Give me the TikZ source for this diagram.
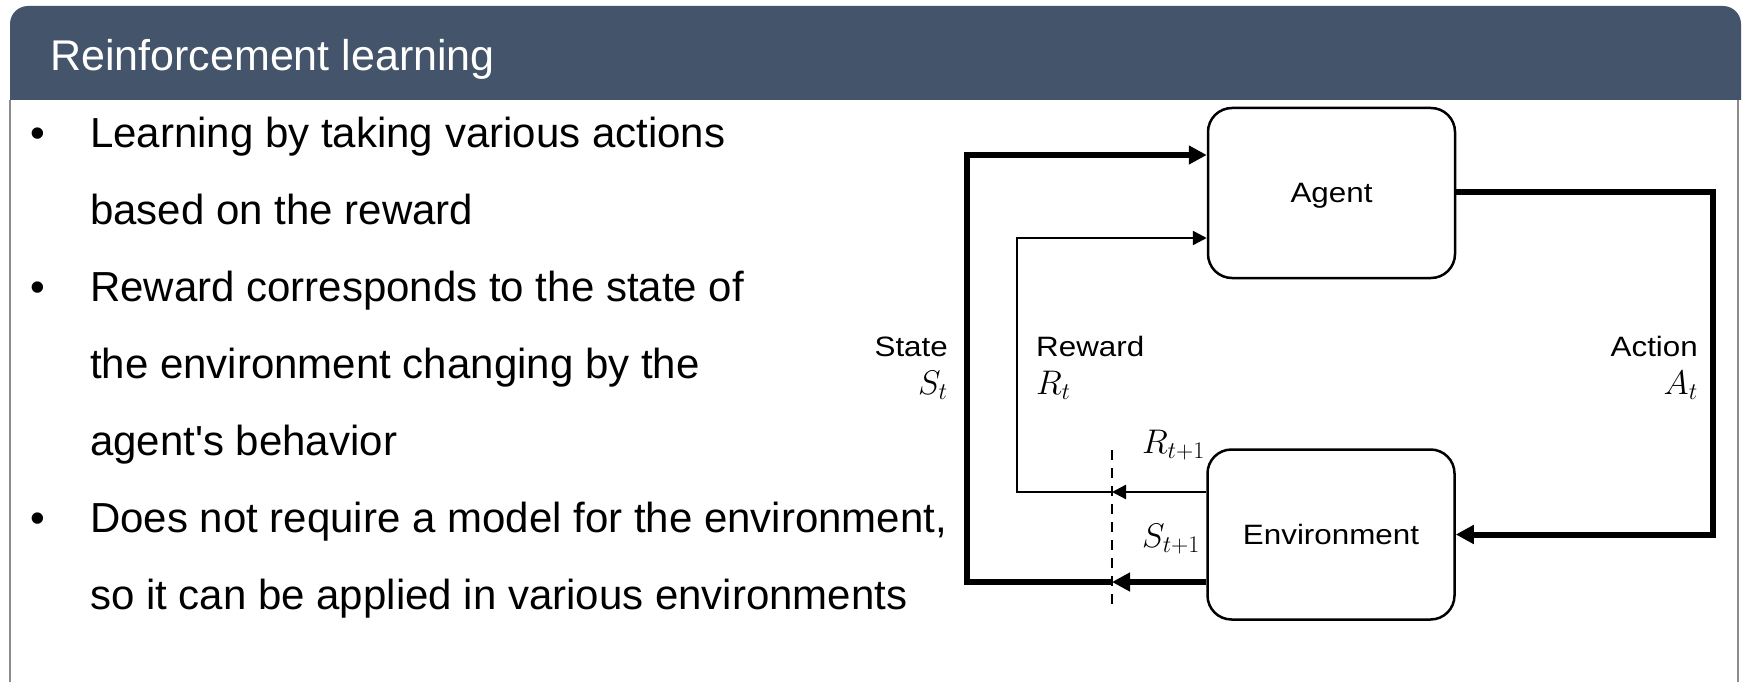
\RequirePackage{fix-cm}
\documentclass[tikz,border=0pt]{standalone}
\usepackage[no-math]{fontspec}
\setmainfont{Liberation Sans}
\usepackage{graphicx}
\usetikzlibrary{arrows.meta}
\definecolor{hdr}{HTML}{44546A}
\definecolor{framegray}{HTML}{8C8C8C}
\newcommand\lbl[1]{\scalebox{1.12}[1]{#1}}
\newcommand\mlbl[1]{\scalebox{1.22}{#1}}
\tikzset{
  body/.style={font=\fontsize{42}{50}\selectfont, anchor=base west, inner sep=0pt},
  lab/.style={font=\fontsize{28}{32}\selectfont, inner sep=0pt},
  mlab/.style={font=\fontsize{28}{32}\selectfont, inner sep=0pt},
  blk/.style={draw, line width=2.5pt, rounded corners=24pt, minimum width=247pt, minimum height=170pt, inner sep=0pt, text depth=0pt, font=\fontsize{28}{32}\selectfont},
  thk/.style={line width=6pt},
  thn/.style={line width=2.5pt},
  thktip/.style={-{Triangle[length=18pt,width=18pt]}},
  thntip/.style={-{Triangle[length=14pt,width=14pt]}},
}
\begin{document}
\begin{tikzpicture}[x=1pt,y=-1pt]
\useasboundingbox (0,0) rectangle (1745,682);
\fill[white] (0,0) rectangle (1745,682);
% header
\fill[hdr] (10,100) -- (10,24) arc[start angle=180,end angle=270,radius=18] -- (1723,6) arc[start angle=270,end angle=360,radius=18] -- (1741,100) -- cycle;
\draw[framegray, line width=2pt] (10,100) -- (10,682);
\draw[framegray, line width=2pt] (1738,100) -- (1738,682);
\node[body, text=white, font=\fontsize{43}{50}\selectfont] (title) at (50,71) {Reinforcement learning};
% bullets
\node[body, anchor=base] (b1) at (37.5,147) {•};
\node[body, anchor=base] (b2) at (37.5,301) {•};
\node[body, anchor=base] (b3) at (37.5,532) {•};
\node[body] (l1) at (90,147) {Learning by taking various actions};
\node[body] (l2) at (90,224) {based on the reward};
\node[body] (l3) at (90,301) {Reward corresponds to the state of};
\node[body] (l4) at (90,378) {the environment changing by the};
\node[body] (l5) at (90,455) {agent\textquotesingle s behavior};
\node[body] (l6) at (90,532) {Does not require a model for the environment,};
\node[body] (l7) at (90,609) {so it can be applied in various environments};
% diagram
\node[blk] (agent) at (1331.5,193) {\lbl{Agent}};
\node[blk] (env) at (1331,534.5) {\lbl{Environment}};
\coordinate (ar) at (1713,192);
\coordinate (sx) at (967,582);
\coordinate (stop) at (967,155);
\coordinate (rbot) at (1017,492);
\coordinate (rtop) at (1017,238);
\coordinate (dtop) at (1112,450);
\coordinate (dbot) at (1112,611);
% action
\draw[thk, thktip] (agent.east |- ar) -- (ar) |- (env.east);
% state
\draw[thk, thktip] (env.west |- sx) -- (dtop |- sx);
\draw[thk, thktip] (dtop |- sx) -- (sx) -- (stop) -- (agent.west |- stop);
% reward
\draw[thn, thntip] (env.west |- rbot) -- (dtop |- rbot);
\draw[thn, thntip] (dtop |- rbot) -- (rbot) -- (rtop) -- (agent.west |- rtop);
% dashed
\draw[line width=2pt, dash pattern=on 10pt off 8pt] (dtop) -- (dbot);
% labels
\node[lab, anchor=base east] (stl) at (948,356) {\lbl{State}};
\node[mlab, anchor=base east] (stm) at (948,394) {\mlbl{$S_t$}};
\node[lab, anchor=base west] (rwl) at (1036,356) {\lbl{Reward}};
\node[mlab, anchor=base west] (rwm) at (1036,394) {\mlbl{$R_t$}};
\node[lab, anchor=base east] (acl) at (1698,356) {\lbl{Action}};
\node[mlab, anchor=base east] (acm) at (1698,394) {\mlbl{$A_t$}};
\node[mlab, anchor=base west] (r1) at (1142,453) {\mlbl{$R_{t+1}$}};
\node[mlab, anchor=base west] (s1) at (1142,547) {\mlbl{$S_{t+1}$}};
\end{tikzpicture}
\end{document}
